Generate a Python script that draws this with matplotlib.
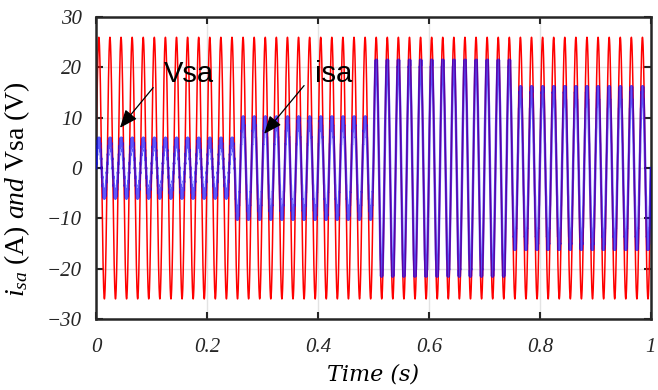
"""
Source voltage and source current of phase a, four load steps over 1 s.
Saves out.png (658x390).
"""
import numpy as np
import matplotlib
matplotlib.use("Agg")
import matplotlib.pyplot as plt

plt.rcParams["mathtext.fontset"] = "custom"
plt.rcParams["mathtext.it"] = "Liberation Serif:italic"
plt.rcParams["mathtext.rm"] = "Liberation Serif"

# ---- values -----------------------------------------------------------------
f_grid = 50.0                              # Hz, one red peak every ~0.02 s
vsa_peak = 26.0                            # V
step_start = [0.0, 0.25, 0.5, 0.75]        # s, load changes
isa_peak = [6.0, 10.2, 21.5, 16.2]         # A, current peak per step
ripple_amp = [0.5, 0.5, 0.6, 0.6]          # A, switching ripple per step
f_switch = 1000.0                          # Hz, switching ripple
x_ticks = [0, 0.2, 0.4, 0.6, 0.8, 1]
x_tick_labels = ["0", "0.2", "0.4", "0.6", "0.8", "1"]
y_ticks = [-30, -20, -10, 0, 10, 20, 30]

# ---- waveforms ----------------------------------------------------------------
t = np.linspace(0, 1, 40001)
phase = np.sin(2 * np.pi * f_grid * t)
vsa = vsa_peak * phase

idx = np.searchsorted(step_start, t, side="right") - 1
amp = np.array(isa_peak)[idx]
rip = np.array(ripple_amp)[idx]
core = amp - rip
isa = np.clip(1.08 * core * phase, -core, core)
isa = isa + rip * np.sin(2 * np.pi * f_switch * t)

# ---- chart --------------------------------------------------------------------
fig = plt.figure(figsize=(6.58, 3.9), dpi=100)
ax = fig.add_axes([0.146, 0.182, 0.843, 0.774])

ax.plot(t, vsa, color="#ff0000", lw=1.1, zorder=2)
ax.plot(t, isa, color="#0000ff", lw=1.8, alpha=0.65, zorder=3)

ax.set_xlim(0, 1)
ax.set_ylim(-30, 30)
ax.set_xticks(x_ticks)
ax.set_xticklabels(x_tick_labels)
ax.set_yticks(y_ticks)
ax.grid(True, color="#e3e3e3", lw=1.0, zorder=0)
ax.tick_params(direction="in", length=5, width=1.5, top=True, right=True,
               labelsize=15, colors="#262626")
ax.tick_params(axis="x", pad=14)
ax.tick_params(axis="y", pad=10)
for lab in ax.get_xticklabels() + ax.get_yticklabels():
    lab.set_fontfamily("Liberation Serif")
    lab.set_fontstyle("italic")
for sp in ax.spines.values():
    sp.set_linewidth(1.8)
    sp.set_color("#262626")

ax.set_xlabel("Time (s)", fontsize=16, fontfamily="DejaVu Serif",
              fontstyle="italic", labelpad=4)
ax.set_ylabel(r"$i_{sa}$ (A) $and$ Vsa (V)", fontsize=20,
              fontfamily="Liberation Serif")
ax.yaxis.set_label_coords(-0.115, 0.43)

arrow = dict(arrowstyle="-|>,head_length=1.1,head_width=0.45",
             color="black", lw=0.9, shrinkA=0, shrinkB=0)
ax.annotate("", xy=(0.043, 8.0), xytext=(0.103, 16.0), arrowprops=arrow, zorder=5)
ax.text(0.168, 18.8, "Vsa", fontsize=21, fontfamily="Liberation Sans",
        ha="center", va="center", zorder=5)
ax.annotate("", xy=(0.303, 6.8), xytext=(0.375, 16.4), arrowprops=arrow, zorder=5)
ax.text(0.428, 18.8, "isa", fontsize=21, fontfamily="Liberation Sans",
        ha="center", va="center", zorder=5)

fig.savefig("out.png", dpi=100)
